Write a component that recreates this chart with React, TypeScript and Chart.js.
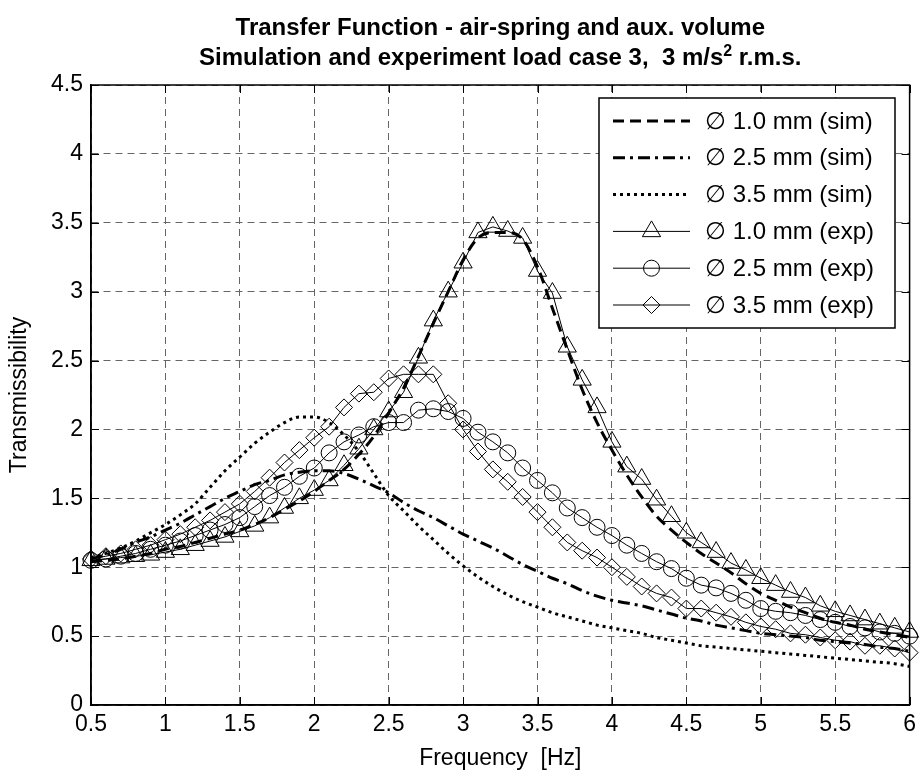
import React, { useEffect, useRef } from 'react';
import { Chart, registerables } from 'chart.js';
Chart.register(...registerables);

const freqs = [
  0.5, 0.6, 0.7, 0.8, 0.9, 1.0, 1.1, 1.2, 1.3, 1.4,
  1.5, 1.6, 1.7, 1.8, 1.9, 2.0, 2.1, 2.2, 2.3, 2.4,
  2.5, 2.6, 2.7, 2.8, 2.9, 3.0, 3.1, 3.2, 3.3, 3.4,
  3.5, 3.6, 3.7, 3.8, 3.9, 4.0, 4.1, 4.2, 4.3, 4.4,
  4.5, 4.6, 4.7, 4.8, 4.9, 5.0, 5.1, 5.2, 5.3, 5.4,
  5.5, 5.6, 5.7, 5.8, 5.9, 6.0,
];

const sim10 = [
  1.04, 1.05, 1.06, 1.08, 1.10, 1.13, 1.15, 1.18, 1.21, 1.24,
  1.27, 1.31, 1.36, 1.42, 1.48, 1.55, 1.63, 1.71, 1.82, 1.95,
  2.12, 2.30, 2.53, 2.77, 3.00, 3.23, 3.39, 3.43, 3.43, 3.38,
  3.18, 2.88, 2.58, 2.29, 2.05, 1.85, 1.67, 1.51, 1.37, 1.27,
  1.18, 1.10, 1.03, 0.96, 0.88, 0.81, 0.76, 0.71, 0.67, 0.63,
  0.60, 0.58, 0.55, 0.53, 0.51, 0.49,
];

const sim25 = [
  1.06, 1.09, 1.13, 1.18, 1.22, 1.27, 1.32, 1.38, 1.44, 1.50,
  1.55, 1.60, 1.63, 1.67, 1.69, 1.70, 1.70, 1.68, 1.64, 1.59,
  1.54, 1.47, 1.41, 1.36, 1.30, 1.24, 1.19, 1.14, 1.08, 1.02,
  0.97, 0.92, 0.88, 0.83, 0.79, 0.76, 0.74, 0.72, 0.69, 0.66,
  0.63, 0.61, 0.58, 0.56, 0.54, 0.52, 0.51, 0.50, 0.49, 0.47,
  0.46, 0.45, 0.44, 0.42, 0.41, 0.39,
];

const sim35 = [
  1.07, 1.10, 1.14, 1.19, 1.25, 1.31, 1.38, 1.46, 1.58, 1.70,
  1.80, 1.90, 1.98, 2.05, 2.09, 2.09, 2.05, 1.96, 1.84, 1.68,
  1.52, 1.41, 1.30, 1.20, 1.10, 1.01, 0.93, 0.86, 0.80, 0.75,
  0.71, 0.67, 0.64, 0.61, 0.58, 0.56, 0.54, 0.52, 0.49, 0.47,
  0.45, 0.43, 0.42, 0.41, 0.40, 0.39, 0.38, 0.37, 0.36, 0.35,
  0.34, 0.33, 0.32, 0.31, 0.30, 0.28,
];

const exp10 = [
  1.05, 1.06, 1.07, 1.08, 1.09, 1.11, 1.13, 1.16, 1.19, 1.22,
  1.26, 1.30, 1.36, 1.43, 1.50, 1.56, 1.63, 1.74, 1.86, 2.00,
  2.13, 2.27, 2.52, 2.79, 3.00, 3.21, 3.43, 3.47, 3.44, 3.39,
  3.15, 2.99, 2.60, 2.36, 2.16, 1.91, 1.73, 1.64, 1.49, 1.37,
  1.25, 1.18, 1.11, 1.03, 0.98, 0.92, 0.87, 0.82, 0.78, 0.72,
  0.68, 0.65, 0.62, 0.59, 0.56, 0.53,
];

const exp25 = [
  1.05, 1.06, 1.08, 1.10, 1.13, 1.16, 1.19, 1.23, 1.27, 1.31,
  1.36, 1.44, 1.52, 1.58, 1.66, 1.72, 1.83, 1.91, 1.96, 2.02,
  2.05, 2.05, 2.14, 2.15, 2.13, 2.08, 1.98, 1.91, 1.83, 1.72,
  1.63, 1.54, 1.43, 1.36, 1.29, 1.23, 1.16, 1.10, 1.04, 0.99,
  0.92, 0.87, 0.85, 0.81, 0.76, 0.70, 0.68, 0.67, 0.65, 0.62,
  0.60, 0.57, 0.56, 0.53, 0.52, 0.50,
];

const exp35 = [
  1.06, 1.08, 1.10, 1.13, 1.16, 1.20, 1.24, 1.29, 1.34, 1.40,
  1.46, 1.55, 1.65, 1.76, 1.85, 1.94, 2.02, 2.16, 2.26, 2.27,
  2.37, 2.40, 2.40, 2.40, 2.19, 2.00, 1.84, 1.71, 1.62, 1.51,
  1.40, 1.29, 1.18, 1.12, 1.07, 1.00, 0.93, 0.86, 0.81, 0.78,
  0.70, 0.70, 0.67, 0.64, 0.60, 0.57, 0.55, 0.52, 0.51, 0.49,
  0.47, 0.46, 0.43, 0.43, 0.41, 0.38,
];

const seriesLabels = [
  '\u2205 1.0 mm (sim)',
  '\u2205 2.5 mm (sim)',
  '\u2205 3.5 mm (sim)',
  '\u2205 1.0 mm (exp)',
  '\u2205 2.5 mm (exp)',
  '\u2205 3.5 mm (exp)',
];

const titleLine1 = 'Transfer Function - air-spring and aux. volume';
const titleLine2Main = 'Simulation and experiment load case 3,  3 m/s';
const titleLine2Sup = '2';
const titleLine2End = ' r.m.s.';
const xAxisTitle = 'Frequency  [Hz]';
const yAxisTitle = 'Transmissibility';

const FONT = '"Liberation Sans", Arial, Helvetica, sans-serif';

const toPoints = (ys: number[]) => freqs.map((x, i) => ({ x, y: ys[i] }));

function drawMarker(ctx: CanvasRenderingContext2D, style: string, r: number, x: number, y: number) {
  ctx.beginPath();
  if (style === 'triangle') {
    let rad = 0;
    ctx.moveTo(x + Math.sin(rad) * r, y - Math.cos(rad) * r);
    rad += (2 * Math.PI) / 3;
    ctx.lineTo(x + Math.sin(rad) * r, y - Math.cos(rad) * r);
    rad += (2 * Math.PI) / 3;
    ctx.lineTo(x + Math.sin(rad) * r, y - Math.cos(rad) * r);
    ctx.closePath();
  } else if (style === 'circle') {
    ctx.arc(x, y, r, 0, Math.PI * 2);
  } else {
    ctx.moveTo(x - r, y);
    ctx.lineTo(x, y - r);
    ctx.lineTo(x + r, y);
    ctx.lineTo(x, y + r);
    ctx.closePath();
  }
  ctx.stroke();
}

const overlayPlugin = {
  id: 'overlay',
  afterDraw(chart: any) {
    const { ctx, chartArea: a, scales } = chart;
    const xs = scales.x;
    const ys = scales.y;
    ctx.save();
    // inward tick marks on all four sides
    ctx.strokeStyle = '#000';
    ctx.lineWidth = 1;
    ctx.setLineDash([]);
    const tl = 8;
    ctx.beginPath();
    xs.ticks.forEach((t: any) => {
      const px = Math.round(xs.getPixelForValue(t.value)) + 0.5;
      ctx.moveTo(px, a.bottom);
      ctx.lineTo(px, a.bottom - tl);
      ctx.moveTo(px, a.top);
      ctx.lineTo(px, a.top + tl);
    });
    ys.ticks.forEach((t: any) => {
      const py = Math.round(ys.getPixelForValue(t.value)) + 0.5;
      ctx.moveTo(a.left, py);
      ctx.lineTo(a.left + tl, py);
      ctx.moveTo(a.right, py);
      ctx.lineTo(a.right - tl, py);
    });
    ctx.stroke();
    // axes box
    ctx.lineWidth = 1.5;
    ctx.strokeRect(a.left, a.top, a.right - a.left, a.bottom - a.top);

    // title
    const cx = (a.left + a.right) / 2;
    ctx.fillStyle = '#000';
    ctx.textBaseline = 'alphabetic';
    ctx.font = `bold 24px ${FONT}`;
    ctx.textAlign = 'center';
    ctx.fillText(titleLine1, cx, 35);
    const wMain = ctx.measureText(titleLine2Main).width;
    const wEnd = ctx.measureText(titleLine2End).width;
    ctx.font = `bold 16px ${FONT}`;
    const wSup = ctx.measureText(titleLine2Sup).width;
    const total = wMain + wSup + wEnd;
    const x0 = cx - total / 2;
    ctx.textAlign = 'left';
    ctx.font = `bold 24px ${FONT}`;
    ctx.fillText(titleLine2Main, x0, 65);
    ctx.font = `bold 16px ${FONT}`;
    ctx.fillText(titleLine2Sup, x0 + wMain, 56);
    ctx.font = `bold 24px ${FONT}`;
    ctx.fillText(titleLine2End, x0 + wMain + wSup, 65);

    // legend
    const lx = 599, ly = 98, lw = 296, lh = 230;
    ctx.fillStyle = '#fff';
    ctx.fillRect(lx, ly, lw, lh);
    ctx.lineWidth = 1.5;
    ctx.strokeStyle = '#000';
    ctx.strokeRect(lx, ly, lw, lh);
    const rowH = 36.8;
    chart.data.datasets.forEach((ds: any, i: number) => {
      const y = ly + 23 + i * rowH;
      const x1 = 613, x2 = 690;
      ctx.save();
      ctx.strokeStyle = ds.borderColor;
      ctx.lineWidth = ds.borderWidth;
      ctx.setLineDash(ds.borderDash || []);
      ctx.beginPath();
      ctx.moveTo(x1, y);
      ctx.lineTo(x2, y);
      ctx.stroke();
      ctx.setLineDash([]);
      if (ds.pointRadius > 0) {
        ctx.lineWidth = ds.pointBorderWidth || 1;
        ctx.strokeStyle = '#000';
        drawMarker(ctx, ds.pointStyle, ds.pointRadius, (x1 + x2) / 2, y);
      }
      ctx.restore();
      ctx.fillStyle = '#000';
      ctx.font = `24px ${FONT}`;
      ctx.textAlign = 'left';
      ctx.textBaseline = 'middle';
      ctx.fillText(ds.label, 705, y + 1);
    });
    ctx.restore();
  },
};

export default function App() {
  const canvasRef = useRef<HTMLCanvasElement | null>(null);

  useEffect(() => {
    if (!canvasRef.current) return;
    Chart.defaults.color = '#000';
    const simBase = {
      borderColor: '#000',
      backgroundColor: '#000',
      borderWidth: 3,
      pointRadius: 0,
      cubicInterpolationMode: 'monotone' as const,
      borderCapStyle: 'butt' as const,
    };
    const expBase = {
      borderColor: '#000',
      backgroundColor: 'rgba(0,0,0,0)',
      borderWidth: 1,
      pointBorderColor: '#000',
      pointBackgroundColor: 'rgba(0,0,0,0)',
      pointBorderWidth: 1,
      clip: false as const,
      tension: 0,
    };
    const chart = new Chart(canvasRef.current, {
      type: 'line',
      data: {
        datasets: [
          { ...simBase, label: seriesLabels[0], data: toPoints(sim10), borderDash: [11, 6] },
          { ...simBase, label: seriesLabels[1], data: toPoints(sim25), borderDash: [12, 5, 3, 5] },
          { ...simBase, label: seriesLabels[2], data: toPoints(sim35), borderDash: [3, 4] },
          { ...expBase, label: seriesLabels[3], data: toPoints(exp10), pointStyle: 'triangle', pointRadius: 10.5 },
          { ...expBase, label: seriesLabels[4], data: toPoints(exp25), pointStyle: 'circle', pointRadius: 8 },
          { ...expBase, label: seriesLabels[5], data: toPoints(exp35), pointStyle: 'rectRot', pointRadius: 8.5 },
        ] as any,
      },
      options: {
        responsive: false,
        animation: false,
        events: [],
        layout: { padding: { left: 0, right: 12, top: 85, bottom: 0 } },
        plugins: {
          legend: { display: false },
          title: { display: false },
          tooltip: { enabled: false },
        },
        scales: {
          x: {
            type: 'linear',
            min: 0.5,
            max: 6,
            ticks: {
              stepSize: 0.5,
              padding: 6,
              color: '#000',
              font: { family: FONT, size: 23 },
              callback: (v: any) => String(Math.round(Number(v) * 10) / 10),
              maxRotation: 0,
              autoSkip: false,
            },
            grid: { color: '#666', lineWidth: 1, drawTicks: false },
            border: { display: true, color: '#000', width: 1.5, dash: [7, 5] },
            title: {
              display: true,
              text: xAxisTitle,
              font: { family: FONT, size: 23 },
              color: '#000',
              padding: { top: 0, bottom: 2 },
            },
            afterFit: (s: any) => {
              s.height = 69;
            },
          },
          y: {
            type: 'linear',
            min: 0,
            max: 4.5,
            ticks: {
              stepSize: 0.5,
              padding: 8,
              color: '#000',
              font: { family: FONT, size: 23 },
              callback: (v: any) => String(Math.round(Number(v) * 10) / 10),
              autoSkip: false,
            },
            grid: { color: '#666', lineWidth: 1, drawTicks: false },
            border: { display: true, color: '#000', width: 1.5, dash: [7, 5] },
            title: {
              display: true,
              text: yAxisTitle,
              font: { family: FONT, size: 23 },
              color: '#000',
              padding: { top: 6, bottom: 0 },
            },
            afterFit: (s: any) => {
              s.width = 91;
            },
          },
        },
      },
      plugins: [overlayPlugin],
    });
    return () => chart.destroy();
  }, []);

  return (
    <div style={{ position: 'fixed', left: 0, top: 0, width: 922, height: 774, background: '#fff' }}>
      <canvas ref={canvasRef} width={922} height={774} style={{ display: 'block' }} />
    </div>
  );
}
